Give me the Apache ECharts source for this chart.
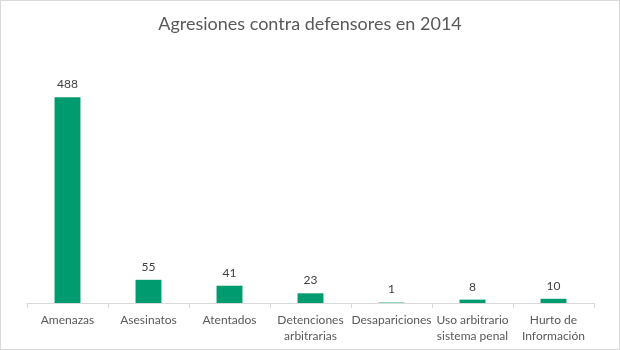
<!DOCTYPE html>
<html>
<head>
<meta charset="utf-8">
<script src="https://cdn.jsdelivr.net/npm/echarts@6/dist/echarts.min.js"></script>
<style>
  html, body { margin: 0; padding: 0; background: #fff; }
  #chart { width: 618px; height: 348px; border: 1px solid #d9d9d9; }
</style>
</head>
<body>
<div id="chart"></div>
<script>
const categories = ['Amenazas', 'Asesinatos', 'Atentados', 'Detenciones\narbitrarias',
  'Desapariciones', 'Uso arbitrario\nsistema penal', 'Hurto de\nInformación'];
const values = [488, 55, 41, 23, 1, 8, 10];

let chart = echarts.init(document.getElementById('chart'));
let option = {
  animation: false,
  title: {
    text: 'Agresiones contra defensores en 2014',
    left: 'center',
    top: 9,
    textStyle: {
      color: '#595959',
      fontSize: 18,
      fontWeight: 'normal',
      fontFamily: 'Lato'
    }
  },
  grid: {
    left: 26,
    right: 25,
    top: 49,
    bottom: 46
  },
  xAxis: {
    type: 'category',
    data: categories,
    axisLine: { lineStyle: { color: '#d9d9d9' } },
    axisTick: { show: true, length: 5, lineStyle: { color: '#d9d9d9' } },
    axisLabel: {
      color: '#595959',
      fontSize: 12,
      fontFamily: 'Lato',
      margin: 9,
      lineHeight: 16,
      interval: 0
    }
  },
  yAxis: {
    type: 'value',
    min: 0,
    max: 600,
    show: false,
    splitLine: { show: false }
  },
  series: [
    {
      type: 'bar',
      data: values,
      barWidth: '32%',
      itemStyle: { color: '#009b6e' },
      label: {
        show: true,
        position: 'top',
        distance: 7,
        color: '#404040',
        fontSize: 12,
        fontFamily: 'Lato'
      }
    }
  ]
};
chart.setOption(option);
</script>
</body>
</html>
